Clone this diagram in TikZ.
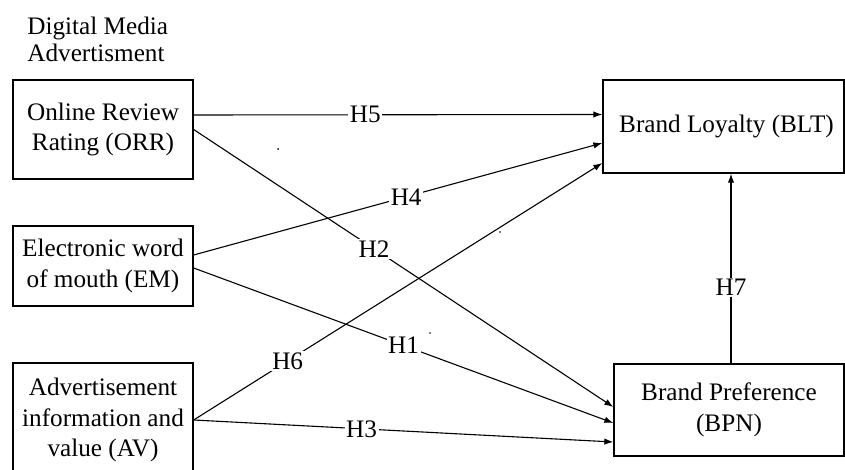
\documentclass[tikz,border=0pt]{standalone}
\usepackage{fontspec}
\setmainfont{Liberation Serif}
\usepackage{tikz}
\usetikzlibrary{calc,arrows.meta}
\tikzset{mybox/.style={draw,rectangle,line width=.65pt,align=center,inner sep=0pt,font=\fontsize{12.6}{15.2}\selectfont},
mylabel/.style={fill=white,inner sep=.8pt,font=\fontsize{12.6}{15}\selectfont},
myarrow/.style={line width=.55pt,-{Latex[length=4.5pt,width=3.2pt]}}}

\begin{document}
\begin{tikzpicture}[x=.5pt,y=-.5pt]
\useasboundingbox (0,0) rectangle (845,470);
\node[align=left,anchor=west,inner sep=0pt,font=\fontsize{12.6}{13.5}\selectfont] (title) at (27,39) {Digital Media\\Advertisment};
\node[mybox,minimum width=90pt,minimum height=49.5pt] (orr) at (103,129.5) {Online Review\\Rating (ORR)};
\node[mybox,minimum width=90pt,minimum height=40pt] (em) at (103,266) {Electronic word\\of mouth (EM)};
\node[mybox,minimum width=90pt,minimum height=57pt] (av) at (103,420) {Advertisement\\information and\\value (AV)};
\node[mybox,minimum width=120.5pt,minimum height=46.5pt] (blt) at (723.5,126.5) {\hspace*{3pt}Brand Loyalty (BLT)};
\node[mybox,minimum width=115pt,minimum height=46pt] (bpn) at (729,410) {Brand Preference\\(BPN)};
\draw[myarrow] ($(orr.east)+(0,-14.5)$) -- node[mylabel,pos=.42]{H5} ($(blt.west)+(0,-12)$);
\draw[myarrow] ($(em.east)+(0,-11)$) -- node[mylabel,pos=.52]{H4} ($(blt.west)+(0,16.5)$);
\draw[myarrow] (av.east) -- node[mylabel,pos=.23]{H6} ($(blt.west)+(0,36.5)$);
\draw[myarrow] (orr.east) -- node[mylabel,pos=.43]{H2} ($(bpn.west)+(0,-3)$);
\draw[myarrow] ($(em.east)+(0,2)$) -- node[mylabel,pos=.5]{H1} ($(bpn.west)+(0,13)$);
\draw[myarrow] (av.east) -- node[mylabel,pos=.4]{H3} ($(bpn.west)+(0,32)$);
\draw[myarrow] ($(bpn.north)+(2,0)$) -- node[mylabel,pos=.4]{H7} ($(bpn.north |- blt.south)+(2,0)$);
% stray dots
\fill (278,149) circle (1) (500,232) circle (.8) (430,333) circle (.8);
\end{tikzpicture}
\end{document}
